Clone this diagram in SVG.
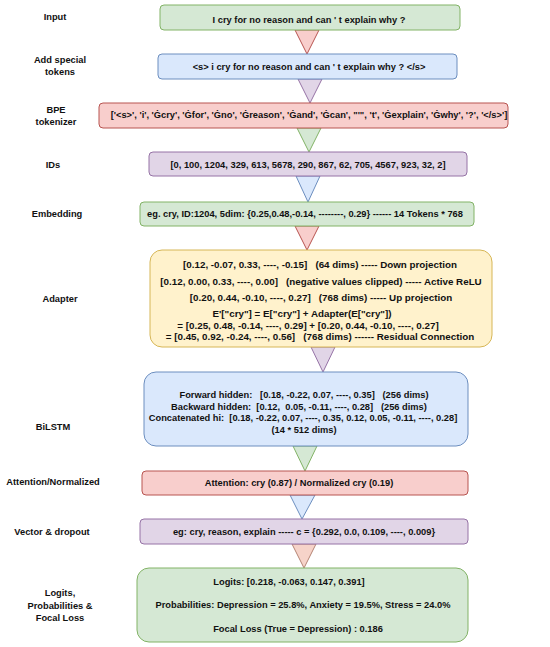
<svg xmlns="http://www.w3.org/2000/svg" width="550" height="647" viewBox="0 0 550 647">
<style>
text{font-family:"Liberation Sans",Arial,sans-serif;font-weight:bold;font-size:9.3px;fill:#111;text-anchor:middle;white-space:pre}
.ad{font-size:9.8px}
.green{fill:#d5e8d4;stroke:#82b366;stroke-width:1}
.blue{fill:#dae8fc;stroke:#6c8ebf;stroke-width:1}
.red{fill:#f8cecc;stroke:#b85450;stroke-width:1}
.purple{fill:#e1d5e7;stroke:#9673a6;stroke-width:1}
.yellow{fill:#fff2cc;stroke:#d6b656;stroke-width:1}
.peach{fill:#f6d3c9;stroke:#b58474;stroke-width:1}
</style>
<rect width="550" height="647" fill="#fff"/>
<g id="labels">
<text x="55" y="20">Input</text>
<text x="60" y="63">Add special</text>
<text x="60" y="75">tokens</text>
<text x="56" y="113">BPE</text>
<text x="56" y="125">tokenizer</text>
<text x="53" y="168">IDs</text>
<text x="57" y="217">Embedding</text>
<text x="60" y="302">Adapter</text>
<text x="53" y="430">BiLSTM</text>
<text x="53" y="485">Attention/Normalized</text>
<text x="52" y="535">Vector &amp; dropout</text>
<text x="60" y="596">Logits,</text>
<text x="60" y="609">Probabilities &amp;</text>
<text x="60" y="621">Focal Loss</text>
</g>
<g id="connectors">
<polygon class="red" points="295,30 319,30 307,54"/>
<polygon class="purple" points="298,79 322,79 310,103"/>
<polygon class="green" points="297,128 321,128 309,152"/>
<polygon class="blue" points="296,176 320,176 308,202"/>
<polygon class="red" points="295,226 319,226 307,250"/>
<polygon class="purple" points="311,347 335,347 323,372"/>
<polygon class="green" points="293,446 317,446 305,471"/>
<polygon class="blue" points="290,495 315,495 302,519"/>
<polygon class="peach" points="292,544 316,544 304,568"/>
</g>
<g id="input">
<rect class="green" x="160" y="5" width="300" height="25" rx="4"/>
<text x="309" y="23">I cry for no reason and can ' t explain why ?</text>
</g>
<g id="special">
<rect class="blue" x="158" y="54" width="299" height="25" rx="4"/>
<text x="309" y="70">&lt;s&gt; i cry for no reason and can ' t explain why ? &lt;/s&gt;</text>
</g>
<g id="bpe">
<rect class="red" x="99" y="103" width="409" height="25" rx="4"/>
<text x="309" y="118">['&lt;s&gt;', 'i', 'Ġcry', 'Ġfor', 'Ġno', 'Ġreason', 'Ġand', 'Ġcan', "'", 't', 'Ġexplain', 'Ġwhy', '?', '&lt;/s&gt;']</text>
</g>
<g id="ids">
<rect class="purple" x="149" y="152" width="318" height="24" rx="4"/>
<text x="308" y="168">[0, 100, 1204, 329, 613, 5678, 290, 867, 62, 705, 4567, 923, 32, 2]</text>
</g>
<g id="embedding">
<rect class="green" x="140" y="202" width="334" height="24" rx="4"/>
<text x="305" y="217">eg. cry, ID:1204, 5dim: {0.25,0.48,-0.14, --------, 0.29} ------ 14 Tokens * 768</text>
</g>
<g id="adapter">
<rect class="yellow" x="150" y="250" width="342" height="97" rx="12"/>
<text class="ad" x="320" y="268">[0.12, -0.07, 0.33, ----, -0.15]   (64 dims) ----- Down projection</text>
<text class="ad" x="321" y="285">[0.12, 0.00, 0.33, ----, 0.00]   (negative values clipped) ----- Active ReLU</text>
<text class="ad" x="321" y="301">[0.20, 0.44, -0.10, ----, 0.27]   (768 dims) ----- Up projection</text>
<text class="ad" x="302" y="317">E'["cry"] = E["cry"] + Adapter(E["cry"])</text>
<text class="ad" x="308" y="329">= [0.25, 0.48, -0.14, ----, 0.29] + [0.20, 0.44, -0.10, ----, 0.27]</text>
<text class="ad" x="320" y="340">= [0.45, 0.92, -0.24, ----, 0.56]   (768 dims) ------ Residual Connection</text>
</g>
<g id="bilstm">
<rect class="blue" x="144" y="372" width="324" height="74" rx="12"/>
<text x="304" y="398">Forward hidden:   [0.18, -0.22, 0.07, ----, 0.35]   (256 dims)</text>
<text x="299" y="410">Backward hidden:  [0.12,  0.05, -0.11, ----, 0.28]   (256 dims)</text>
<text x="303" y="421">Concatenated hi:  [0.18, -0.22, 0.07, ----, 0.35, 0.12, 0.05, -0.11, ----, 0.28]</text>
<text x="304" y="433">(14 * 512 dims)</text>
</g>
<g id="attention">
<rect class="red" x="142" y="471" width="326" height="24" rx="4"/>
<text x="299" y="486">Attention: cry (0.87) / Normalized cry (0.19)</text>
</g>
<g id="vector">
<rect class="purple" x="140" y="519" width="328" height="25" rx="4"/>
<text x="304" y="535">eg: cry, reason, explain ----- c = {0.292, 0.0, 0.109, ----, 0.009}</text>
</g>
<g id="logits">
<rect class="green" x="137" y="568" width="331" height="74" rx="12"/>
<text x="289" y="585">Logits: [0.218, -0.063, 0.147, 0.391]</text>
<text x="303" y="608">Probabilities: Depression = 25.8%, Anxiety = 19.5%, Stress = 24.0%</text>
<text x="298" y="632">Focal Loss (True = Depression) : 0.186</text>
</g>
</svg>
